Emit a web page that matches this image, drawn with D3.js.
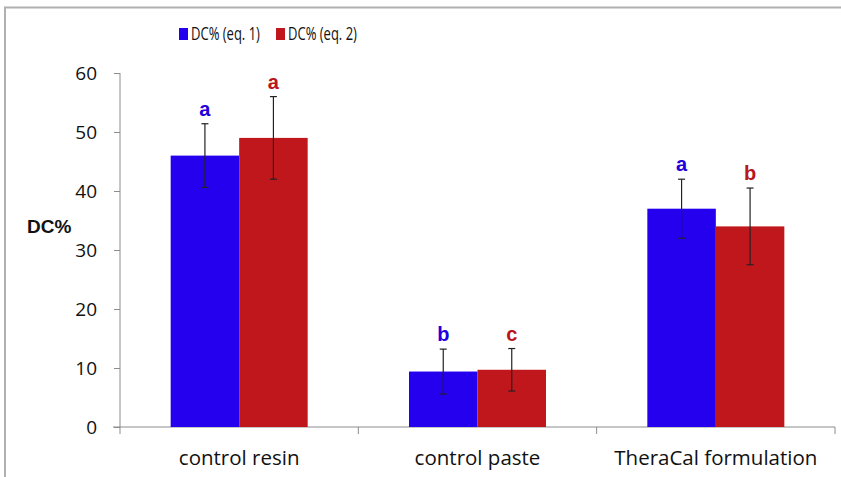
<!DOCTYPE html>
<html><head><meta charset="utf-8">
<script src="https://cdn.jsdelivr.net/npm/d3@7"></script>
<style>body{margin:0;background:#fff}svg{display:block}</style>
</head><body>
<svg id="c" width="841" height="477"></svg>
<script>
const categories = ["control resin", "control paste", "TheraCal formulation"];
const seriesNames = ["DC% (eq. 1)", "DC% (eq. 2)"];
const eq1 = [46.0, 9.4, 37.0];
const eq2 = [49.0, 9.7, 34.0];
const eq1Err = [5.4, 3.8, 5.0];
const eq2Err = [7.0, 3.6, 6.5];
const eq1Letters = ["a", "b", "a"];
const eq2Letters = ["a", "c", "b"];
const yTicks = [0, 10, 20, 30, 40, 50, 60];

const colors = ["#2400ee", "#c0171c"];
const letterColors = ["#2200dd", "#b8161b"];
const font = "'Open Sans', 'Liberation Sans', sans-serif";

const svg = d3.select("#c");
svg.append("path").attr("d", "M5,477 V7.5 H841").attr("fill", "none")
  .attr("stroke", "#b0b0b0").attr("stroke-width", 2);

const pLeft = 120, pRight = 835, pTop = 73, pBottom = 427;
const x0 = d3.scaleBand().domain(categories).range([pLeft, pRight]).paddingInner(0).paddingOuter(0);
const y = d3.scaleLinear().domain([0, 60]).range([pBottom, pTop]);
const groupW = 137;
const x1 = d3.scaleBand().domain([0, 1]).range([0, groupW]).padding(0);

// y axis
const ya = svg.append("g").attr("transform", `translate(${pLeft},0)`)
  .call(d3.axisLeft(y).tickValues(yTicks).tickSize(6).tickPadding(17).tickFormat(d3.format("d")));
ya.select(".domain").attr("stroke", "#8c8c8c").attr("d", `M0,${pTop}V${pBottom}`);
ya.selectAll(".tick line").attr("stroke", "#8c8c8c");
ya.selectAll(".tick text").attr("font-family", font).attr("font-size", 19).attr("fill", "#111");

// x axis
svg.append("line").attr("x1", pLeft - 7).attr("x2", pRight).attr("y1", pBottom).attr("y2", pBottom)
  .attr("stroke", "#8c8c8c");
const bounds = [pLeft].concat(categories.map(c => x0(c) + x0.bandwidth()));
svg.selectAll("line.xt").data(bounds).join("line").attr("class", "xt")
  .attr("x1", d => d).attr("x2", d => d).attr("y1", pBottom).attr("y2", pBottom + 7)
  .attr("stroke", "#8c8c8c");
svg.selectAll("text.xl").data(categories).join("text").attr("class", "xl")
  .attr("x", d => x0(d) + x0.bandwidth() / 2).attr("y", 465)
  .attr("text-anchor", "middle").attr("font-family", font).attr("font-size", 20.5).attr("fill", "#111")
  .text(d => d);

// y title
svg.append("text").attr("x", 27).attr("y", 233).attr("font-family", "'Liberation Sans', Arial, sans-serif")
  .attr("font-weight", "bold").attr("font-size", 19).attr("fill", "#111").text("DC%");

const series = [
  {vals: eq1, err: eq1Err, letters: eq1Letters},
  {vals: eq2, err: eq2Err, letters: eq2Letters}
];

series.forEach((s, si) => {
  const g = svg.append("g");
  const bx = i => x0(categories[i]) + (x0.bandwidth() - groupW) / 2 + x1(si);
  g.selectAll("rect").data(s.vals).join("rect")
    .attr("x", (d, i) => bx(i)).attr("width", x1.bandwidth())
    .attr("y", d => y(d)).attr("height", d => y(0) - y(d))
    .attr("fill", colors[si]);
  s.vals.forEach((v, i) => {
    const cx = bx(i) + x1.bandwidth() / 2;
    const e = s.err[i];
    g.append("line").attr("x1", cx).attr("x2", cx).attr("y1", y(v + e)).attr("y2", y(v - e))
      .attr("stroke", "#222").attr("stroke-width", 1.2);
    [v + e, v - e].forEach(t => g.append("line").attr("x1", cx - 3.5).attr("x2", cx + 3.5)
      .attr("y1", y(t)).attr("y2", y(t)).attr("stroke", "#222").attr("stroke-width", 1.2));
    g.append("text").attr("x", cx).attr("y", y(v + e) - 8).attr("text-anchor", "middle")
      .attr("font-family", "'Liberation Sans', Arial, sans-serif").attr("font-weight", "bold")
      .attr("font-size", 20).attr("fill", letterColors[si]).text(s.letters[i]);
  });
});

// legend
const legX = [179, 276];
const legTextW = 69;
seriesNames.forEach((n, i) => {
  svg.append("rect").attr("x", legX[i]).attr("y", 28).attr("width", 9).attr("height", 12).attr("fill", colors[i]);
  const t = svg.append("text").attr("x", 0).attr("y", 0).attr("font-family", font)
    .attr("font-size", 19).attr("fill", "#111").text(n);
  const w = t.node().getComputedTextLength() || legTextW;
  t.attr("transform", `translate(${legX[i] + 12},40) scale(${legTextW / w},1)`);
});
</script>
</body></html>
